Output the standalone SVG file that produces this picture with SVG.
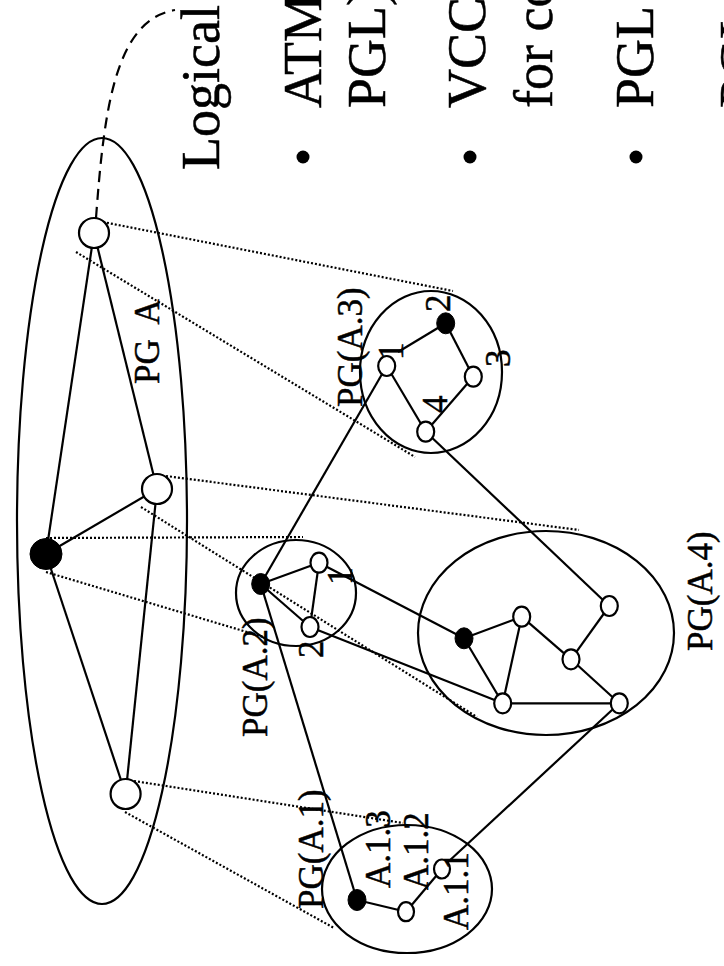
<svg xmlns="http://www.w3.org/2000/svg" width="724" height="966" viewBox="0 0 724 966">
<style>
.t{font-family:"Liberation Serif","Times New Roman",serif;fill:#000;stroke:#000;stroke-width:0.5}
.big{font-size:54px}
.lbl{font-size:35px}
.e{fill:none;stroke:#000;stroke-width:2.2}
.ln{stroke:#000;stroke-width:2.2;fill:none}
.dot{stroke:#000;stroke-width:2.2;stroke-dasharray:2 2;fill:none}
.dash{stroke:#000;stroke-width:2.2;stroke-dasharray:11 7;fill:none}
.o{fill:#fff;stroke:#000;stroke-width:2.2}
.b{fill:#000;stroke:#000;stroke-width:1}
</style>

<g id="text-panel">
<text class="t big" transform="translate(219,170) rotate(-90)">Logical</text>
<circle cx="303" cy="157" r="6.5" fill="#000"/>
<text class="t big" transform="translate(321,108) rotate(-90)">ATM</text>
<text class="t big" transform="translate(385,108) rotate(-90)">PGL)</text>
<circle cx="470" cy="157" r="6.5" fill="#000"/>
<text class="t big" transform="translate(485,108) rotate(-90)">VCC</text>
<text class="t big" transform="translate(552,108) rotate(-90)">for co</text>
<circle cx="636" cy="157" r="6.5" fill="#000"/>
<text class="t big" transform="translate(653,108) rotate(-90)">PGL</text>
<text class="t big" transform="translate(757,108) rotate(-90)">PGL</text>
</g>

<g id="groups">
<ellipse id="pgA" class="e" cx="102" cy="521" rx="85" ry="383"/>
<ellipse id="pgA3" class="e" cx="431" cy="372" rx="71" ry="81"/>
<ellipse id="pgA2" class="e" cx="296" cy="593" rx="60" ry="53"/>
<ellipse id="pgA4" class="e" cx="546" cy="633" rx="128" ry="102"/>
<ellipse id="pgA1" class="e" cx="407" cy="889" rx="85" ry="64"/>
</g>

<g id="connectors">
<path class="dash" d="M96,218 C104,110 115,20 175,10"/>
<line class="dot" x1="103" y1="222" x2="453" y2="291"/>
<line class="dot" x1="76" y1="252" x2="415" y2="457"/>
<line class="dot" x1="166" y1="476" x2="579" y2="530"/>
<line class="dot" x1="141" y1="507" x2="477" y2="717"/>
<line class="dot" x1="46" y1="538" x2="303" y2="537"/>
<line class="dot" x1="46" y1="572" x2="267" y2="638"/>
<line class="dot" x1="134" y1="781" x2="403" y2="823"/>
<line class="dot" x1="125" y1="812" x2="334" y2="928"/>
<line class="ln" x1="94" y1="233" x2="46" y2="554"/>
<line class="ln" x1="94" y1="233" x2="157" y2="489"/>
<line class="ln" x1="157" y1="489" x2="46" y2="554"/>
<line class="ln" x1="46" y1="554" x2="125.6" y2="794"/>
<line class="ln" x1="157" y1="489" x2="125.6" y2="794"/>
<line class="ln" x1="445.7" y1="323.3" x2="398" y2="352"/>
<line class="ln" x1="445.7" y1="323.3" x2="473.3" y2="376.7"/>
<line class="ln" x1="473.3" y1="376.7" x2="425.7" y2="431.7"/>
<line class="ln" x1="386.7" y1="366" x2="425.7" y2="431.7"/>
<line class="ln" x1="260.7" y1="584" x2="319" y2="562.7"/>
<line class="ln" x1="260.7" y1="584" x2="310" y2="627"/>
<line class="ln" x1="319" y1="562.7" x2="310" y2="627"/>
<line class="ln" x1="464" y1="638.3" x2="521.7" y2="616.7"/>
<line class="ln" x1="464" y1="638.3" x2="502.7" y2="703.3"/>
<line class="ln" x1="521.7" y1="616.7" x2="502.7" y2="703.3"/>
<line class="ln" x1="521.7" y1="616.7" x2="571" y2="659.3"/>
<line class="ln" x1="609.3" y1="606" x2="571" y2="659.3"/>
<line class="ln" x1="571" y1="659.3" x2="619.3" y2="703.3"/>
<line class="ln" x1="502.7" y1="703.3" x2="619.3" y2="703.3"/>
<line class="ln" x1="357" y1="900" x2="406" y2="911.7"/>
<line class="ln" x1="406" y1="911.7" x2="442" y2="869"/>
<line class="ln" x1="386.7" y1="366" x2="260.7" y2="584"/>
<line class="ln" x1="425.7" y1="431.7" x2="609.3" y2="606"/>
<line class="ln" x1="319" y1="562.7" x2="464" y2="638.3"/>
<line class="ln" x1="310" y1="627" x2="502.7" y2="703.3"/>
<line class="ln" x1="260.7" y1="584" x2="357" y2="900"/>
<line class="ln" x1="619.3" y1="703.3" x2="448" y2="862"/>
</g>

<g id="node-A-top"><ellipse class="o" cx="94" cy="233" rx="15" ry="15"/></g>
<g id="node-A-mid"><ellipse class="o" cx="157" cy="489" rx="15" ry="15"/></g>
<g id="node-A-leader"><ellipse class="b" cx="46" cy="554" rx="16" ry="15.5"/></g>
<g id="node-A-bot"><ellipse class="o" cx="125.6" cy="794" rx="15" ry="15"/></g>

<g id="node-A3-1"><ellipse class="o" cx="386.7" cy="366" rx="8.5" ry="10"/></g>
<g id="node-A3-2"><ellipse class="b" cx="445.7" cy="323.3" rx="9" ry="10.5"/></g>
<g id="node-A3-3"><ellipse class="o" cx="473.3" cy="376.7" rx="8.5" ry="10"/></g>
<g id="node-A3-4"><ellipse class="o" cx="425.7" cy="431.7" rx="8.5" ry="10"/></g>

<g id="node-A2-leader"><ellipse class="b" cx="260.7" cy="584" rx="9" ry="10.5"/></g>
<g id="node-A2-1"><ellipse class="o" cx="319" cy="562.7" rx="8.5" ry="10"/></g>
<g id="node-A2-2"><ellipse class="o" cx="310" cy="627" rx="8.5" ry="10"/></g>

<g id="node-A4-leader"><ellipse class="b" cx="464" cy="638.3" rx="9" ry="10.5"/></g>
<g id="node-A4-a"><ellipse class="o" cx="521.7" cy="616.7" rx="8.5" ry="10"/></g>
<g id="node-A4-b"><ellipse class="o" cx="609.3" cy="606" rx="8.5" ry="10"/></g>
<g id="node-A4-c"><ellipse class="o" cx="571" cy="659.3" rx="8.5" ry="10"/></g>
<g id="node-A4-d"><ellipse class="o" cx="502.7" cy="703.3" rx="8.5" ry="10"/></g>
<g id="node-A4-e"><ellipse class="o" cx="619.3" cy="703.3" rx="8.5" ry="10"/></g>

<g id="node-A1-leader"><ellipse class="b" cx="357" cy="900" rx="9" ry="10.5"/></g>
<g id="node-A1-2"><ellipse class="o" cx="406" cy="911.7" rx="8" ry="9.5"/></g>
<g id="node-A1-1"><ellipse class="o" cx="442" cy="869" rx="8" ry="9.5"/></g>

<g id="labels">
<text class="t lbl" font-size="38" word-spacing="8" transform="translate(159,384) rotate(-90)">PG A</text>
<text class="t lbl" transform="translate(362,407) rotate(-90)">PG(A.3)</text>
<text class="t lbl" transform="translate(403,360) rotate(-90)">1</text>
<text class="t lbl" transform="translate(450,312) rotate(-90)">2</text>
<text class="t lbl" transform="translate(510,367) rotate(-90)">3</text>
<text class="t lbl" transform="translate(447,413) rotate(-90)">4</text>
<text class="t lbl" transform="translate(267,737) rotate(-90)">PG(A.2)</text>
<text class="t lbl" transform="translate(352,585) rotate(-90)">1</text>
<text class="t lbl" transform="translate(323,658) rotate(-90)">2</text>
<text class="t lbl" transform="translate(712,651) rotate(-90)">PG(A.4)</text>
<text class="t lbl" transform="translate(323,909) rotate(-90)">PG(A.1)</text>
<text class="t lbl" transform="translate(390,888) rotate(-90)">A.1.3</text>
<text class="t lbl" transform="translate(428,890) rotate(-90)">A.1.2</text>
<text class="t lbl" transform="translate(468,930) rotate(-90)">A.1.1</text>
</g>
</svg>
